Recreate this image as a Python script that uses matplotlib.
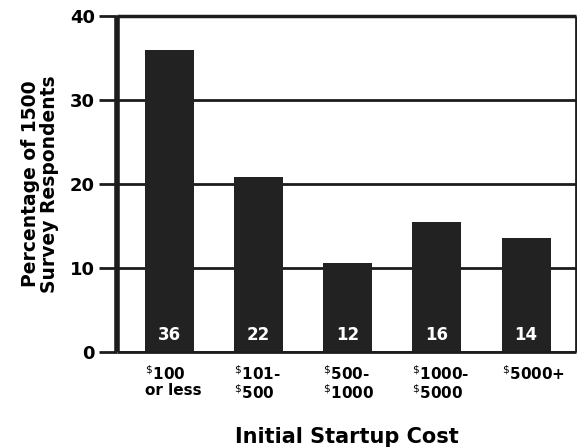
import matplotlib
matplotlib.use('Agg')
import matplotlib.pyplot as plt

# Data
categories = [r'$^{\$}$100' + '\nor less', r'$^{\$}$101-' + '\n' + r'$^{\$}$500',
              r'$^{\$}$500-' + '\n' + r'$^{\$}$1000', r'$^{\$}$1000-' + '\n' + r'$^{\$}$5000',
              r'$^{\$}$5000+']
heights = [36, 20.8, 10.6, 15.5, 13.6]
bar_labels = ['36', '22', '12', '16', '14']
yticks = [0, 10, 20, 30, 40]

ink = '#1c1c1c'
plt.rcParams['font.family'] = ['DejaVu Sans']
plt.rcParams['mathtext.fontset'] = 'dejavusans'

fig = plt.figure(figsize=(5.77, 4.47), dpi=100)
ax = fig.add_axes([117 / 577, 95 / 447, 459 / 577, 336 / 447])

x = list(range(len(heights)))
ax.bar(x, heights, width=0.55, color='#222222', zorder=2)

for xi, lab in zip(x, bar_labels):
    ax.text(xi, 2.0, lab, color='white', ha='center', va='center',
            fontsize=12, fontweight='bold', zorder=3)

ax.set_xlim(-0.59, 4.56)
ax.set_ylim(0, 40)

# Horizontal rules behind the bars
ax.set_yticks(yticks)
ax.yaxis.grid(True, color=ink, linewidth=2, zorder=0)
ax.set_axisbelow(True)
ax.tick_params(axis='y', direction='out', length=13, width=2, color=ink,
               labelsize=13, pad=3)
for t in ax.get_yticklabels():
    t.set_fontweight('bold')

ax.set_xticks([xi - 0.275 for xi in x])
ax.set_xticklabels(categories, ha='left', fontsize=11, fontweight='bold',
                   linespacing=1.0)
ax.tick_params(axis='x', length=0, pad=9)

ax.spines['left'].set_linewidth(4)
ax.spines['bottom'].set_linewidth(2)
ax.spines['top'].set_linewidth(2.5)
ax.spines['right'].set_linewidth(2)
for s in ax.spines.values():
    s.set_color(ink)
    s.set_capstyle('butt')

ax.set_ylabel('Percentage of 1500\nSurvey Respondents', fontsize=13.5,
              fontweight='bold', linespacing=1.0, labelpad=8)
ax.set_xlabel('Initial Startup Cost', fontsize=15, fontweight='bold',
              labelpad=18)

fig.savefig('out.png', dpi=100)
